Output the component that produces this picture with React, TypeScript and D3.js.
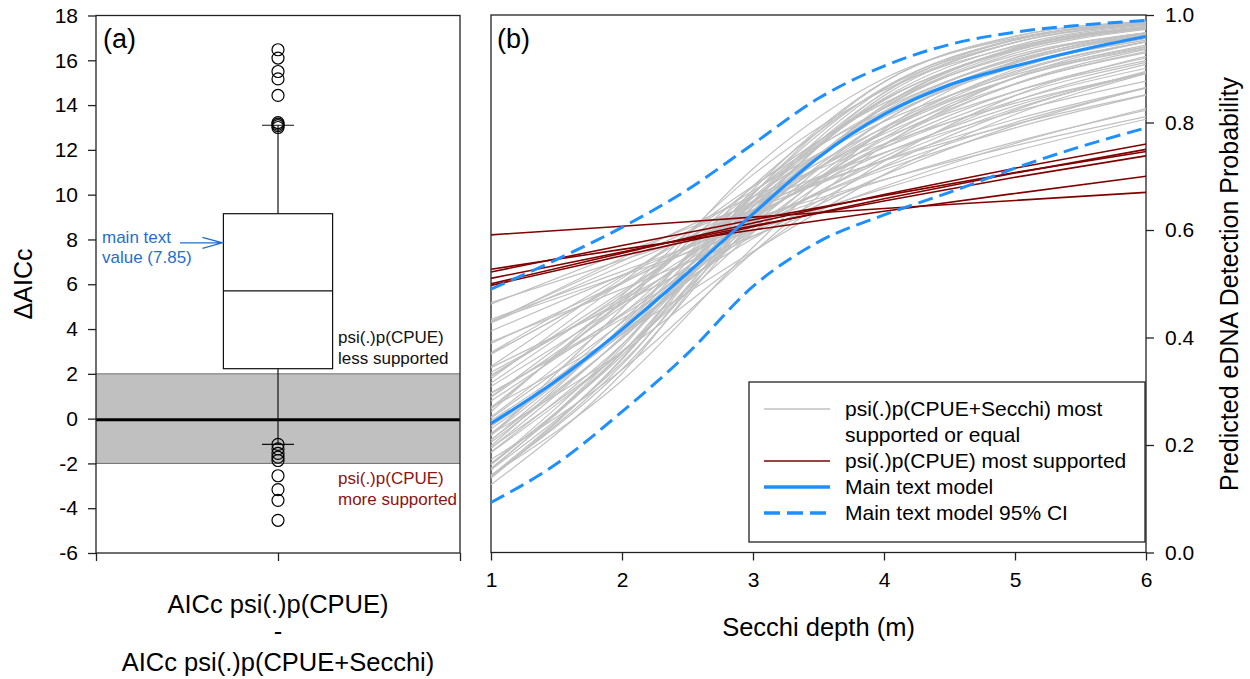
import React, { useEffect, useRef } from "react";
import * as d3 from "d3";

const W = 1250;
const H = 679;
const FONT = "'Liberation Sans', Arial, Helvetica, sans-serif";

// ---- panel (a) data : delta AICc box plot ----
const deltaTicks = [-6, -4, -2, 0, 2, 4, 6, 8, 10, 12, 14, 16, 18];
const boxQ1 = 2.23;
const boxMedian = 5.7;
const boxQ3 = 9.15;
const whiskerLow = -1.15;
const whiskerHigh = 13.1;
const outliersHigh = [13.0, 13.08, 13.15, 13.22, 14.43, 15.17, 15.5, 16.1, 16.47];
const outliersLow = [-1.15, -1.35, -1.55, -1.72, -1.87, -2.55, -3.17, -3.65, -4.54];
const equalBand = [-2, 2];
const mainTextValue = 7.85;

// ---- panel (b) data : detection probability vs Secchi ----
const secchi = [1, 2, 3, 4, 5, 6];
const secchiHalf = [1, 1.5, 2, 2.5, 3, 3.5, 4, 4.5, 5, 5.5, 6];
const probTicks = [0, 0.2, 0.4, 0.6, 0.8, 1.0];

const mainModel = [0.24, 0.32, 0.415, 0.52, 0.63, 0.735, 0.815, 0.87, 0.905, 0.935, 0.96];
const mainUpper = [0.49, 0.545, 0.605, 0.675, 0.76, 0.845, 0.905, 0.945, 0.968, 0.981, 0.99];
const mainLower = [0.093, 0.165, 0.262, 0.37, 0.495, 0.578, 0.628, 0.67, 0.715, 0.755, 0.79];

// psi(.)p(CPUE+Secchi) most supported or equal (values at Secchi 1..6)
const secchiModels = [
  [0.465, 0.544, 0.622, 0.694, 0.757, 0.811],
  [0.431, 0.515, 0.599, 0.677, 0.747, 0.806],
  [0.462, 0.557, 0.647, 0.729, 0.797, 0.852],
  [0.392, 0.49, 0.589, 0.681, 0.761, 0.826],
  [0.427, 0.533, 0.638, 0.73, 0.806, 0.865],
  [0.389, 0.502, 0.615, 0.717, 0.8, 0.864],
  [0.428, 0.548, 0.662, 0.76, 0.836, 0.892],
  [0.344, 0.464, 0.588, 0.702, 0.795, 0.865],
  [0.37, 0.5, 0.629, 0.743, 0.831, 0.893],
  [0.335, 0.469, 0.607, 0.73, 0.826, 0.892],
  [0.372, 0.514, 0.654, 0.772, 0.858, 0.915],
  [0.33, 0.475, 0.625, 0.754, 0.85, 0.912],
  [0.296, 0.441, 0.598, 0.736, 0.84, 0.908],
  [0.327, 0.485, 0.645, 0.779, 0.872, 0.93],
  [0.346, 0.51, 0.673, 0.802, 0.889, 0.941],
  [0.282, 0.444, 0.619, 0.768, 0.871, 0.932],
  [0.289, 0.457, 0.636, 0.784, 0.883, 0.94],
  [0.245, 0.41, 0.597, 0.76, 0.872, 0.936],
  [0.29, 0.472, 0.661, 0.81, 0.903, 0.953],
  [0.25, 0.428, 0.628, 0.791, 0.895, 0.95],
  [0.23, 0.407, 0.612, 0.783, 0.892, 0.95],
  [0.252, 0.443, 0.652, 0.816, 0.913, 0.961],
  [0.267, 0.468, 0.68, 0.836, 0.925, 0.967],
  [0.21, 0.398, 0.622, 0.803, 0.91, 0.962],
  [0.219, 0.416, 0.643, 0.821, 0.921, 0.967],
  [0.186, 0.374, 0.609, 0.803, 0.914, 0.965],
  [0.221, 0.43, 0.668, 0.843, 0.934, 0.974],
  [0.187, 0.387, 0.635, 0.827, 0.929, 0.973],
  [0.194, 0.402, 0.654, 0.841, 0.937, 0.976],
  [0.166, 0.366, 0.625, 0.828, 0.933, 0.976],
  [0.198, 0.421, 0.682, 0.863, 0.949, 0.982],
  [0.163, 0.372, 0.643, 0.845, 0.943, 0.981],
  [0.143, 0.341, 0.615, 0.832, 0.939, 0.979],
  [0.164, 0.386, 0.667, 0.865, 0.953, 0.985],
  [0.141, 0.349, 0.636, 0.85, 0.949, 0.983],
  [0.143, 0.359, 0.653, 0.863, 0.955, 0.986],
  [0.126, 0.333, 0.633, 0.856, 0.954, 0.986],
  [0.138, 0.361, 0.666, 0.875, 0.961, 0.987],
  [0.144, 0.32, 0.568, 0.787, 0.912, 0.967],
  [0.173, 0.34, 0.558, 0.757, 0.884, 0.95],
  [0.22, 0.373, 0.558, 0.728, 0.85, 0.923],
  [0.27, 0.407, 0.56, 0.703, 0.815, 0.891],
  [0.217, 0.454, 0.714, 0.882, 0.957, 0.985],
  [0.262, 0.478, 0.703, 0.86, 0.941, 0.976],
  [0.434, 0.523, 0.612, 0.693, 0.764, 0.823],
  [0.43, 0.542, 0.65, 0.744, 0.82, 0.877],
  [0.369, 0.503, 0.637, 0.753, 0.841, 0.901],
  [0.309, 0.462, 0.622, 0.759, 0.858, 0.92],
  [0.315, 0.481, 0.651, 0.79, 0.883, 0.938],
  [0.235, 0.406, 0.603, 0.772, 0.883, 0.944],
  [0.27, 0.464, 0.67, 0.826, 0.917, 0.963],
  [0.205, 0.399, 0.633, 0.817, 0.92, 0.967],
  [0.209, 0.418, 0.661, 0.842, 0.935, 0.975],
  [0.154, 0.353, 0.621, 0.831, 0.937, 0.978],
  [0.157, 0.371, 0.651, 0.855, 0.949, 0.983],
  [0.154, 0.381, 0.675, 0.876, 0.96, 0.988],
  [0.297, 0.435, 0.584, 0.719, 0.823, 0.895],
  [0.412, 0.516, 0.618, 0.712, 0.79, 0.851],
  [0.195, 0.374, 0.595, 0.783, 0.899, 0.956],
  [0.323, 0.503, 0.682, 0.82, 0.906, 0.953],
];

// psi(.)p(CPUE) most supported (values at Secchi 1..6)
const cpueModels = [
  [0.591, 0.607, 0.624, 0.64, 0.655, 0.67],
  [0.527, 0.564, 0.6, 0.635, 0.668, 0.7],
  [0.522, 0.571, 0.619, 0.664, 0.707, 0.746],
  [0.51, 0.559, 0.608, 0.654, 0.698, 0.738],
  [0.5, 0.557, 0.613, 0.666, 0.715, 0.76],
  [0.497, 0.552, 0.606, 0.658, 0.706, 0.75],
];

const legendLabels = [
  ["psi(.)p(CPUE+Secchi) most", "supported or equal"],
  ["psi(.)p(CPUE) most supported"],
  ["Main text model"],
  ["Main text model 95% CI"],
];

const GRAY = "#c0c0c0";
const RED = "#800000";
const BLUE = "#1e8fff";
const NOTE_BLUE = "#1f6fce";
const NOTE_RED = "#8b1414";
const DASH = "15,7";

const App = () => {
  const ref = useRef<SVGSVGElement>(null);

  useEffect(() => {
    const svg = d3.select(ref.current);
    svg.selectAll("*").remove();

    // ================= Panel (a) =================
    const xA = d3.scaleLinear().domain([0, 2]).range([96, 460]);
    const yA = d3.scaleLinear().domain([-6, 18]).range([553, 15.5]);
    const gA = svg.append("g");

    // equal-support band
    gA.append("rect")
      .attr("x", xA(0))
      .attr("y", yA(equalBand[1]))
      .attr("width", xA(2) - xA(0))
      .attr("height", yA(equalBand[0]) - yA(equalBand[1]))
      .attr("fill", "#c0c0c0");
    equalBand.forEach(v => {
      gA.append("line")
        .attr("x1", xA(0)).attr("x2", xA(2))
        .attr("y1", yA(v)).attr("y2", yA(v))
        .attr("stroke", "#6f6f6f").attr("stroke-width", 1);
    });
    gA.append("line")
      .attr("x1", xA(0)).attr("x2", xA(2))
      .attr("y1", yA(0) + 1).attr("y2", yA(0) + 1)
      .attr("stroke", "#000").attr("stroke-width", 3);

    // whiskers
    const cx = xA(1);
    gA.append("line")
      .attr("x1", cx).attr("x2", cx)
      .attr("y1", yA(whiskerLow)).attr("y2", yA(boxQ1))
      .attr("stroke", "#111").attr("stroke-width", 1.2);
    gA.append("line")
      .attr("x1", cx).attr("x2", cx)
      .attr("y1", yA(boxQ3)).attr("y2", yA(whiskerHigh))
      .attr("stroke", "#111").attr("stroke-width", 1.2);
    [whiskerLow, whiskerHigh].forEach(v => {
      gA.append("line")
        .attr("x1", xA(1 - 0.088)).attr("x2", xA(1 + 0.088))
        .attr("y1", yA(v)).attr("y2", yA(v))
        .attr("stroke", "#111").attr("stroke-width", 1.2);
    });

    // box
    gA.append("rect")
      .attr("x", xA(1 - 0.3))
      .attr("y", yA(boxQ3))
      .attr("width", xA(1.3) - xA(0.7))
      .attr("height", yA(boxQ1) - yA(boxQ3))
      .attr("fill", "#fff")
      .attr("stroke", "#111")
      .attr("stroke-width", 1.2);
    gA.append("line")
      .attr("x1", xA(0.7)).attr("x2", xA(1.3))
      .attr("y1", yA(boxMedian)).attr("y2", yA(boxMedian))
      .attr("stroke", "#111").attr("stroke-width", 1.2);

    // outliers
    gA.selectAll("circle.out")
      .data([...outliersHigh, ...outliersLow])
      .join("circle")
      .attr("class", "out")
      .attr("cx", cx)
      .attr("cy", d => yA(d))
      .attr("r", 6)
      .attr("fill", "none")
      .attr("stroke", "#000")
      .attr("stroke-width", 1.2);

    // frame
    gA.append("rect")
      .attr("x", xA(0)).attr("y", yA(18))
      .attr("width", xA(2) - xA(0)).attr("height", yA(-6) - yA(18))
      .attr("fill", "none").attr("stroke", "#222").attr("stroke-width", 1.3);

    // axes
    const axA = gA.append("g")
      .attr("transform", `translate(${xA(0)},0)`)
      .call(d3.axisLeft(yA).tickValues(deltaTicks).tickSize(8).tickPadding(10).tickSizeOuter(0)
        .tickFormat(d => `${d}`));
    const axAb = gA.append("g")
      .attr("transform", `translate(0,${yA(-6)})`)
      .call(d3.axisBottom(xA).tickValues([0, 1, 2]).tickSize(8).tickSizeOuter(0).tickFormat(() => ""));
    [axA, axAb].forEach(a => {
      a.select(".domain").remove();
      a.attr("font-family", FONT).attr("font-size", 21);
      a.selectAll("line").attr("stroke", "#222").attr("stroke-width", 1.3);
      a.selectAll("text").attr("fill", "#000");
    });

    // annotations
    gA.append("text").attr("x", 103).attr("y", 48)
      .attr("font-family", FONT).attr("font-size", 27).text("(a)");
    const noteY = yA(mainTextValue);
    gA.append("text").attr("x", 102).attr("y", 243)
      .attr("font-family", FONT).attr("font-size", 17).attr("fill", NOTE_BLUE).text("main text");
    gA.append("text").attr("x", 102).attr("y", 263)
      .attr("font-family", FONT).attr("font-size", 17).attr("fill", NOTE_BLUE).text("value (7.85)");
    const tipX = xA(0.7) - 1;
    gA.append("path")
      .attr("d", `M180,${noteY} L${tipX},${noteY} M${tipX - 20},${noteY - 5.5} L${tipX},${noteY} L${tipX - 20},${noteY + 5.5}`)
      .attr("fill", "none").attr("stroke", NOTE_BLUE).attr("stroke-width", 1.3);

    gA.append("text").attr("x", 338).attr("y", 343)
      .attr("font-family", FONT).attr("font-size", 17).attr("fill", "#111").text("psi(.)p(CPUE)");
    gA.append("text").attr("x", 338).attr("y", 364)
      .attr("font-family", FONT).attr("font-size", 17).attr("fill", "#111").text("less supported");
    gA.append("text").attr("x", 338).attr("y", 484)
      .attr("font-family", FONT).attr("font-size", 17).attr("fill", NOTE_RED).text("psi(.)p(CPUE)");
    gA.append("text").attr("x", 338).attr("y", 505)
      .attr("font-family", FONT).attr("font-size", 17).attr("fill", NOTE_RED).text("more supported");

    // axis titles
    gA.append("text")
      .attr("transform", `translate(32,284) rotate(-90)`)
      .attr("text-anchor", "middle")
      .attr("font-family", FONT).attr("font-size", 25)
      .text("\u0394AICc");
    const xTitleA = ["AICc psi(.)p(CPUE)", "-", "AICc psi(.)p(CPUE+Secchi)"];
    const xTitleY = [613, 640, 671];
    xTitleA.forEach((t, i) => {
      gA.append("text")
        .attr("x", xA(1)).attr("y", xTitleY[i])
        .attr("text-anchor", "middle")
        .attr("font-family", FONT).attr("font-size", 25.5)
        .text(t);
    });

    // ================= Panel (b) =================
    const xB = d3.scaleLinear().domain([1, 6]).range([491, 1146]);
    const yB = d3.scaleLinear().domain([0, 1]).range([552.5, 15]);
    const gB = svg.append("g");

    const line6 = d3.line<number>()
      .x((d, i) => xB(secchi[i]))
      .y(d => yB(d))
      .curve(d3.curveMonotoneX);
    const line11 = d3.line<number>()
      .x((d, i) => xB(secchiHalf[i]))
      .y(d => yB(d))
      .curve(d3.curveMonotoneX);

    // frame
    gB.append("rect")
      .attr("x", xB(1)).attr("y", yB(1))
      .attr("width", xB(6) - xB(1)).attr("height", yB(0) - yB(1))
      .attr("fill", "none").attr("stroke", "#222").attr("stroke-width", 1.3);

    gB.append("g").selectAll("path")
      .data(secchiModels)
      .join("path")
      .attr("d", d => line6(d))
      .attr("fill", "none")
      .attr("stroke", GRAY)
      .attr("stroke-width", 1.2);

    gB.append("g").selectAll("path")
      .data(cpueModels)
      .join("path")
      .attr("d", d => line6(d))
      .attr("fill", "none")
      .attr("stroke", RED)
      .attr("stroke-width", 1.6);

    [mainUpper, mainLower].forEach(ci => {
      gB.append("path")
        .attr("d", line11(ci))
        .attr("fill", "none")
        .attr("stroke", BLUE)
        .attr("stroke-width", 3)
        .attr("stroke-dasharray", DASH);
    });
    gB.append("path")
      .attr("d", line11(mainModel))
      .attr("fill", "none")
      .attr("stroke", BLUE)
      .attr("stroke-width", 3.2);

    // axes
    const axBx = gB.append("g")
      .attr("transform", `translate(0,${yB(0)})`)
      .call(d3.axisBottom(xB).tickValues(secchi).tickSize(8).tickPadding(12).tickSizeOuter(0).tickFormat(d3.format("d")));
    const axBy = gB.append("g")
      .attr("transform", `translate(${xB(6)},0)`)
      .call(d3.axisRight(yB).tickValues(probTicks).tickSize(8).tickPadding(11).tickSizeOuter(0).tickFormat(d3.format(".1f")));
    [axBx, axBy].forEach(a => {
      a.select(".domain").remove();
      a.attr("font-family", FONT).attr("font-size", 21);
      a.selectAll("line").attr("stroke", "#222").attr("stroke-width", 1.3);
      a.selectAll("text").attr("fill", "#000");
    });

    gB.append("text").attr("x", 497).attr("y", 48)
      .attr("font-family", FONT).attr("font-size", 27).text("(b)");

    gB.append("text")
      .attr("x", (xB(1) + xB(6)) / 2).attr("y", 636)
      .attr("text-anchor", "middle")
      .attr("font-family", FONT).attr("font-size", 25.5)
      .text("Secchi depth (m)");
    gB.append("text")
      .attr("transform", `translate(1238,284) rotate(-90)`)
      .attr("text-anchor", "middle")
      .attr("font-family", FONT).attr("font-size", 25)
      .text("Predicted eDNA Detection Probability");

    // legend
    const lg = gB.append("g");
    lg.append("rect")
      .attr("x", 749).attr("y", 382).attr("width", 396).attr("height", 160)
      .attr("fill", "#fff").attr("stroke", "#222").attr("stroke-width", 1.3);
    const legendStyle = [
      { color: GRAY, width: 1.5, dash: null },
      { color: RED, width: 1.6, dash: null },
      { color: BLUE, width: 3.4, dash: null },
      { color: BLUE, width: 3.4, dash: "16,7" },
    ];
    let row = 0;
    legendLabels.forEach((lines, i) => {
      const ly = 409 + 26 * row;
      const s = legendStyle[i];
      const l = lg.append("line")
        .attr("x1", 764).attr("x2", 830)
        .attr("y1", ly).attr("y2", ly)
        .attr("stroke", s.color).attr("stroke-width", s.width);
      if (s.dash) l.attr("stroke-dasharray", s.dash);
      lines.forEach((t, k) => {
        lg.append("text")
          .attr("x", 845).attr("y", ly + 26 * k + 7)
          .attr("font-family", FONT).attr("font-size", 21)
          .text(t);
      });
      row += lines.length;
    });
  }, []);

  return (
    <svg
      ref={ref}
      width={W}
      height={H}
      style={{ position: "absolute", left: 0, top: 0, background: "#fff" }}
    />
  );
};

export default App;
